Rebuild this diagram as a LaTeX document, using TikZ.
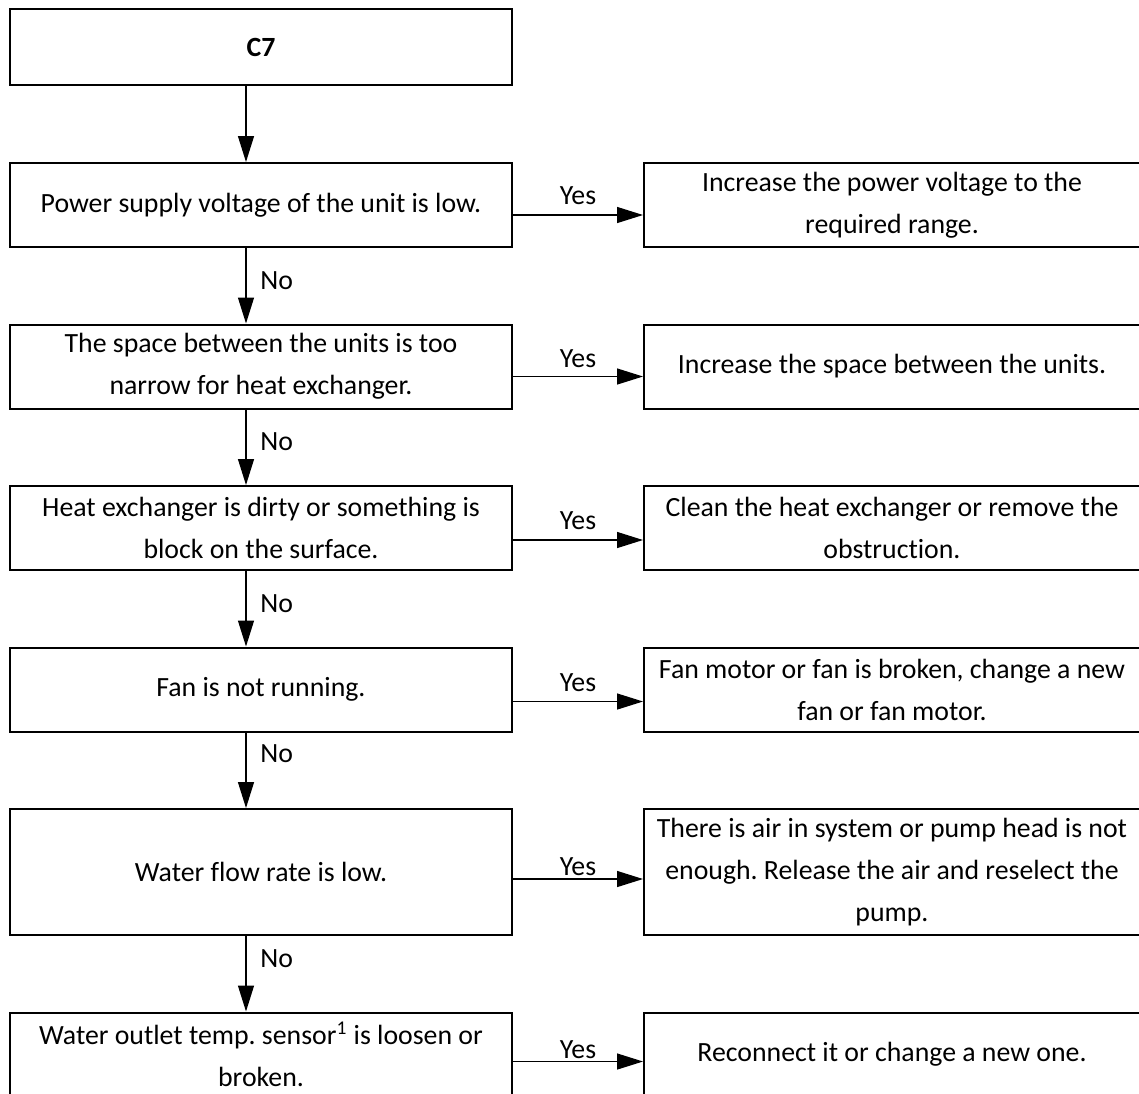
\documentclass[tikz,border=0pt]{standalone}
\usepackage{fontspec}
\setmainfont{Carlito}[Ligatures={NoCommon}]
\usetikzlibrary{arrows.meta}
\frenchspacing
\tikzset{
  box/.style={draw, line width=1pt, rectangle, inner sep=0pt, align=center,
    font=\fontsize{13.9pt}{21pt}\selectfont\frenchspacing},
  lbox/.style={box, minimum width=251pt, minimum height=42pt},
  rbox/.style={box, minimum width=248pt, minimum height=42pt},
  arr/.style={line width=0.65pt, -{Triangle[length=13pt,width=8pt]}},
  lbl/.style={font=\fontsize{13.9pt}{21pt}\selectfont, inner sep=0pt, anchor=base}
}
\begin{document}
\begin{tikzpicture}[x=0.5pt, y=-0.5pt]
\useasboundingbox[fill=white] (0,0) rectangle (1139,1093);
\clip (0,0) rectangle (1139,1093);
% left column
\node[lbox, minimum height=38pt] (L0) at (261,47) {\textbf{C7}};
\node[lbox] (L1) at (261,205) {Power supply voltage of the unit is low.};
\node[lbox] (L2) at (261,366.5) {The space between the units is too\\narrow for heat exchanger.};
\node[lbox] (L3) at (261,528) {Heat exchanger is dirty or something is\\block on the surface.};
\node[lbox] (L4) at (261,689.5) {Fan is not running.};
\node[lbox, minimum height=63pt] (L5) at (261,872) {Water flow rate is low.};
\node[lbox] (L6) at (261,1054.5) {Water outlet temp. sensor\textsuperscript{1} is loosen or\\broken.};
% right column
\node[rbox] (R1) at (892,205) {Increase the power voltage to the\\required range.};
\node[rbox] (R2) at (892,366.5) {Increase the space between the units.};
\node[rbox] (R3) at (892,528) {Clean the heat exchanger or remove the\\obstruction.};
\node[rbox] (R4) at (892,689.5) {Fan motor or fan is broken, change a new\\fan or fan motor.};
\node[rbox, minimum height=63pt] (R5) at (892,872) {There is air in system or pump head is not\\enough. Release the air and reselect the\\pump.};
\node[rbox] (R6) at (892,1054.5) {Reconnect it or change a new one.};
% vertical arrows
\coordinate (ax) at (246,0);
\draw[arr] (L0.south -| ax) -- (L1.north -| ax);
\draw[arr] (L1.south -| ax) -- (L2.north -| ax);
\draw[arr] (L2.south -| ax) -- (L3.north -| ax);
\draw[arr] (L3.south -| ax) -- (L4.north -| ax);
\draw[arr] (L4.south -| ax) -- (L5.north -| ax);
\draw[arr] (L5.south -| ax) -- (L6.north -| ax);
\node[lbl, anchor=base west] (n1) at (260,289) {No};
\node[lbl, anchor=base west] (n2) at (260,450) {No};
\node[lbl, anchor=base west] (n3) at (260,612) {No};
\node[lbl, anchor=base west] (n4) at (260,762) {No};
\node[lbl, anchor=base west] (n5) at (260,967) {No};
% horizontal arrows
\draw[arr] ([yshift=-5pt]L1.east) -- ([yshift=-5pt]R1.west);
\draw[arr] ([yshift=-5pt]L2.east) -- ([yshift=-5pt]R2.west);
\draw[arr] ([yshift=-6pt]L3.east) -- ([yshift=-6pt]R3.west);
\draw[arr] ([yshift=-6pt]L4.east) -- ([yshift=-6pt]R4.west);
\draw[arr] ([yshift=-3.5pt]L5.east) -- ([yshift=-3.5pt]R5.west);
\draw[arr] ([yshift=-3.5pt]L6.east) -- ([yshift=-3.5pt]R6.west);
\node[lbl] (y1) at (578,204) {Yes};
\node[lbl] (y2) at (578,367) {Yes};
\node[lbl] (y3) at (578,529) {Yes};
\node[lbl] (y4) at (578,691) {Yes};
\node[lbl] (y5) at (578,875) {Yes};
\node[lbl] (y6) at (578,1058) {Yes};
\end{tikzpicture}
\end{document}
